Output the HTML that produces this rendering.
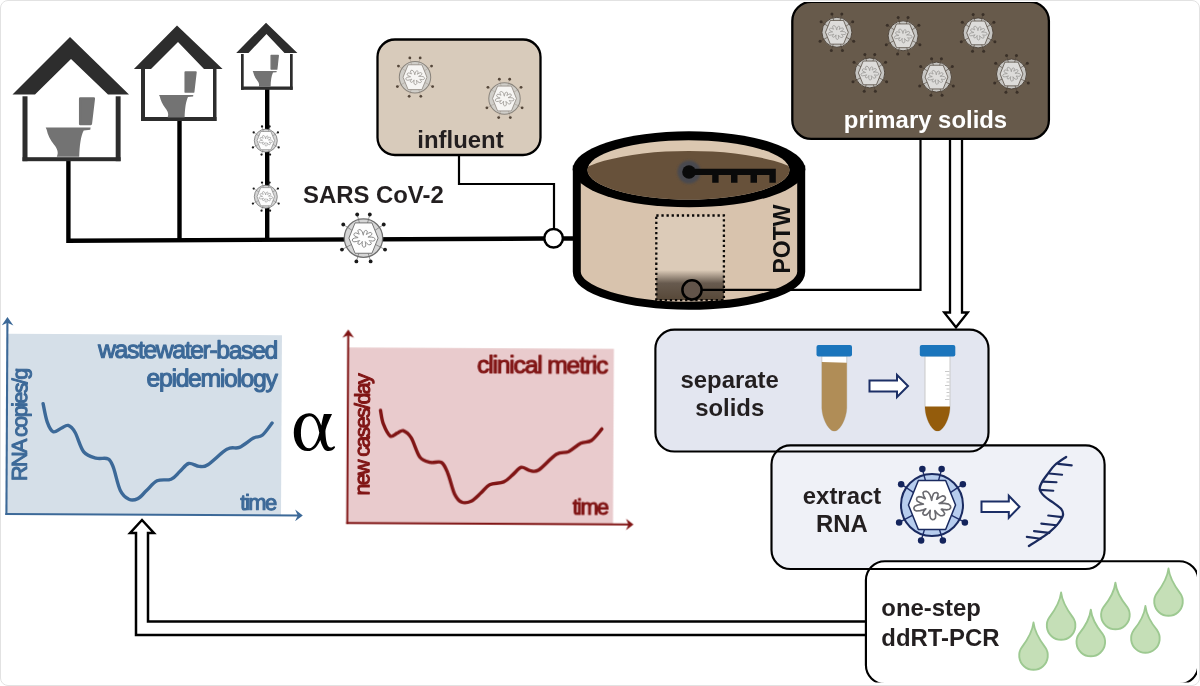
<!DOCTYPE html>
<html><head><meta charset="utf-8"><title>diagram</title>
<style>
html,body{margin:0;padding:0;background:#fff;}
body{width:1200px;height:686px;overflow:hidden;font-family:"Liberation Sans",sans-serif;}
svg{display:block;position:absolute;left:0;top:0;filter:blur(0.5px);}
text{font-family:"Liberation Sans",sans-serif;}
.b{font-weight:bold;font-size:23.9px;fill:#231f20;}
.frame{position:absolute;left:0;top:0;width:1198px;height:684px;border:1px solid #e2e2e2;border-radius:8px;}
</style></head><body>
<svg width="1200" height="686" viewBox="0 0 1200 686">
<defs>
<symbol id="vg" viewBox="-1.4 -1.4 2.8 2.8" overflow="visible"><circle r="1" fill="#d6d6d6"/><line x1="0.181" y1="-0.676" x2="0.329" y2="-1.227" stroke="#777" stroke-width="0.040"/><line x1="-0.181" y1="-0.676" x2="-0.329" y2="-1.227" stroke="#777" stroke-width="0.040"/><line x1="0.580" y1="-0.391" x2="1.053" y2="-0.710" stroke="#777" stroke-width="0.040"/><line x1="-0.580" y1="-0.391" x2="-1.053" y2="-0.710" stroke="#777" stroke-width="0.040"/><line x1="0.618" y1="0.329" x2="1.121" y2="0.596" stroke="#777" stroke-width="0.040"/><line x1="-0.618" y1="0.329" x2="-1.121" y2="0.596" stroke="#777" stroke-width="0.040"/><line x1="0.205" y1="0.669" x2="0.371" y2="1.215" stroke="#777" stroke-width="0.040"/><line x1="-0.205" y1="0.669" x2="-0.371" y2="1.215" stroke="#777" stroke-width="0.040"/><circle cx="0.329" cy="-1.227" r="0.100" fill="#1a1a1a"/><circle cx="-0.329" cy="-1.227" r="0.100" fill="#1a1a1a"/><circle cx="1.053" cy="-0.710" r="0.100" fill="#1a1a1a"/><circle cx="-1.053" cy="-0.710" r="0.100" fill="#1a1a1a"/><circle cx="1.121" cy="0.596" r="0.100" fill="#1a1a1a"/><circle cx="-1.121" cy="0.596" r="0.100" fill="#1a1a1a"/><circle cx="0.371" cy="1.215" r="0.100" fill="#1a1a1a"/><circle cx="-0.371" cy="1.215" r="0.100" fill="#1a1a1a"/><circle r="1" fill="none" stroke="#6e6e6e" stroke-width="0.065"/><polygon points="0.760,0.000 0.440,0.790 -0.440,0.790 -0.760,0.000 -0.440,-0.790 0.440,-0.790" fill="#fdfdfd" stroke="#6e6e6e" stroke-width="0.049" stroke-linejoin="round"/><path d="M0.532 -0.029 L0.592 0.024 L0.603 0.087 L0.564 0.139 L0.472 0.156 L0.365 0.142 L0.317 0.134 L0.300 0.135 L0.313 0.152 L0.361 0.199 L0.409 0.270 L0.390 0.320 L0.336 0.348 L0.264 0.342 L0.183 0.287 L0.117 0.209 L0.093 0.182 L0.090 0.187 L0.099 0.227 L0.116 0.312 L0.113 0.417 L0.068 0.465 L0.007 0.471 L-0.046 0.432 L-0.070 0.343 L-0.064 0.236 L-0.058 0.187 L-0.058 0.171 L-0.071 0.188 L-0.111 0.248 L-0.177 0.318 L-0.235 0.328 L-0.280 0.307 L-0.297 0.262 L-0.266 0.197 L-0.210 0.139 L-0.201 0.123 L-0.222 0.129 L-0.276 0.150 L-0.377 0.181 L-0.501 0.195 L-0.567 0.159 L-0.587 0.100 L-0.555 0.040 L-0.461 -0.002 L-0.345 -0.019 L-0.292 -0.025 L-0.279 -0.030 L-0.306 -0.041 L-0.384 -0.071 L-0.477 -0.126 L-0.500 -0.185 L-0.481 -0.240 L-0.427 -0.271 L-0.341 -0.258 L-0.255 -0.216 L-0.223 -0.203 L-0.219 -0.208 L-0.235 -0.238 L-0.270 -0.305 L-0.291 -0.392 L-0.253 -0.436 L-0.188 -0.443 L-0.119 -0.407 L-0.061 -0.318 L-0.026 -0.209 L-0.014 -0.159 L-0.009 -0.149 L-0.005 -0.178 L0.009 -0.258 L0.045 -0.357 L0.099 -0.397 L0.155 -0.398 L0.194 -0.364 L0.191 -0.293 L0.159 -0.214 L0.149 -0.186 L0.155 -0.185 L0.185 -0.207 L0.253 -0.254 L0.348 -0.295 L0.407 -0.278 L0.435 -0.231 L0.422 -0.172 L0.352 -0.113 L0.260 -0.068 L0.230 -0.053 L0.241 -0.051 L0.295 -0.053 L0.403 -0.053Z" fill="none" stroke="#8a8a8a" stroke-width="0.052" stroke-linejoin="round"/></symbol>
<symbol id="vb" viewBox="-1.4 -1.4 2.8 2.8" overflow="visible"><circle r="1" fill="#c6c5c2"/><line x1="0.181" y1="-0.676" x2="0.329" y2="-1.227" stroke="#4a4036" stroke-width="0.040"/><line x1="-0.181" y1="-0.676" x2="-0.329" y2="-1.227" stroke="#4a4036" stroke-width="0.040"/><line x1="0.580" y1="-0.391" x2="1.053" y2="-0.710" stroke="#4a4036" stroke-width="0.040"/><line x1="-0.580" y1="-0.391" x2="-1.053" y2="-0.710" stroke="#4a4036" stroke-width="0.040"/><line x1="0.618" y1="0.329" x2="1.121" y2="0.596" stroke="#4a4036" stroke-width="0.040"/><line x1="-0.618" y1="0.329" x2="-1.121" y2="0.596" stroke="#4a4036" stroke-width="0.040"/><line x1="0.205" y1="0.669" x2="0.371" y2="1.215" stroke="#4a4036" stroke-width="0.040"/><line x1="-0.205" y1="0.669" x2="-0.371" y2="1.215" stroke="#4a4036" stroke-width="0.040"/><circle cx="0.329" cy="-1.227" r="0.100" fill="#3a3028"/><circle cx="-0.329" cy="-1.227" r="0.100" fill="#3a3028"/><circle cx="1.053" cy="-0.710" r="0.100" fill="#3a3028"/><circle cx="-1.053" cy="-0.710" r="0.100" fill="#3a3028"/><circle cx="1.121" cy="0.596" r="0.100" fill="#3a3028"/><circle cx="-1.121" cy="0.596" r="0.100" fill="#3a3028"/><circle cx="0.371" cy="1.215" r="0.100" fill="#3a3028"/><circle cx="-0.371" cy="1.215" r="0.100" fill="#3a3028"/><circle r="1" fill="none" stroke="#4e443a" stroke-width="0.065"/><polygon points="0.760,0.000 0.440,0.790 -0.440,0.790 -0.760,0.000 -0.440,-0.790 0.440,-0.790" fill="#dddcda" stroke="#4e443a" stroke-width="0.049" stroke-linejoin="round"/><path d="M0.532 -0.029 L0.592 0.024 L0.603 0.087 L0.564 0.139 L0.472 0.156 L0.365 0.142 L0.317 0.134 L0.300 0.135 L0.313 0.152 L0.361 0.199 L0.409 0.270 L0.390 0.320 L0.336 0.348 L0.264 0.342 L0.183 0.287 L0.117 0.209 L0.093 0.182 L0.090 0.187 L0.099 0.227 L0.116 0.312 L0.113 0.417 L0.068 0.465 L0.007 0.471 L-0.046 0.432 L-0.070 0.343 L-0.064 0.236 L-0.058 0.187 L-0.058 0.171 L-0.071 0.188 L-0.111 0.248 L-0.177 0.318 L-0.235 0.328 L-0.280 0.307 L-0.297 0.262 L-0.266 0.197 L-0.210 0.139 L-0.201 0.123 L-0.222 0.129 L-0.276 0.150 L-0.377 0.181 L-0.501 0.195 L-0.567 0.159 L-0.587 0.100 L-0.555 0.040 L-0.461 -0.002 L-0.345 -0.019 L-0.292 -0.025 L-0.279 -0.030 L-0.306 -0.041 L-0.384 -0.071 L-0.477 -0.126 L-0.500 -0.185 L-0.481 -0.240 L-0.427 -0.271 L-0.341 -0.258 L-0.255 -0.216 L-0.223 -0.203 L-0.219 -0.208 L-0.235 -0.238 L-0.270 -0.305 L-0.291 -0.392 L-0.253 -0.436 L-0.188 -0.443 L-0.119 -0.407 L-0.061 -0.318 L-0.026 -0.209 L-0.014 -0.159 L-0.009 -0.149 L-0.005 -0.178 L0.009 -0.258 L0.045 -0.357 L0.099 -0.397 L0.155 -0.398 L0.194 -0.364 L0.191 -0.293 L0.159 -0.214 L0.149 -0.186 L0.155 -0.185 L0.185 -0.207 L0.253 -0.254 L0.348 -0.295 L0.407 -0.278 L0.435 -0.231 L0.422 -0.172 L0.352 -0.113 L0.260 -0.068 L0.230 -0.053 L0.241 -0.051 L0.295 -0.053 L0.403 -0.053Z" fill="none" stroke="#979593" stroke-width="0.052" stroke-linejoin="round"/></symbol>
<symbol id="vi" viewBox="-1.4 -1.4 2.8 2.8" overflow="visible"><circle r="1" fill="#d0cec9"/><line x1="0.181" y1="-0.676" x2="0.329" y2="-1.227" stroke="#a0978b" stroke-width="0.030"/><line x1="-0.181" y1="-0.676" x2="-0.329" y2="-1.227" stroke="#a0978b" stroke-width="0.030"/><line x1="0.580" y1="-0.391" x2="1.053" y2="-0.710" stroke="#a0978b" stroke-width="0.030"/><line x1="-0.580" y1="-0.391" x2="-1.053" y2="-0.710" stroke="#a0978b" stroke-width="0.030"/><line x1="0.618" y1="0.329" x2="1.121" y2="0.596" stroke="#a0978b" stroke-width="0.030"/><line x1="-0.618" y1="0.329" x2="-1.121" y2="0.596" stroke="#a0978b" stroke-width="0.030"/><line x1="0.205" y1="0.669" x2="0.371" y2="1.215" stroke="#a0978b" stroke-width="0.030"/><line x1="-0.205" y1="0.669" x2="-0.371" y2="1.215" stroke="#a0978b" stroke-width="0.030"/><circle cx="0.329" cy="-1.227" r="0.090" fill="#55473a"/><circle cx="-0.329" cy="-1.227" r="0.090" fill="#55473a"/><circle cx="1.053" cy="-0.710" r="0.090" fill="#55473a"/><circle cx="-1.053" cy="-0.710" r="0.090" fill="#55473a"/><circle cx="1.121" cy="0.596" r="0.090" fill="#55473a"/><circle cx="-1.121" cy="0.596" r="0.090" fill="#55473a"/><circle cx="0.371" cy="1.215" r="0.090" fill="#55473a"/><circle cx="-0.371" cy="1.215" r="0.090" fill="#55473a"/><circle r="1" fill="none" stroke="#8a847c" stroke-width="0.065"/><polygon points="0.760,0.000 0.440,0.790 -0.440,0.790 -0.760,0.000 -0.440,-0.790 0.440,-0.790" fill="#f6f5f3" stroke="#8a847c" stroke-width="0.049" stroke-linejoin="round"/><path d="M0.532 -0.029 L0.592 0.024 L0.603 0.087 L0.564 0.139 L0.472 0.156 L0.365 0.142 L0.317 0.134 L0.300 0.135 L0.313 0.152 L0.361 0.199 L0.409 0.270 L0.390 0.320 L0.336 0.348 L0.264 0.342 L0.183 0.287 L0.117 0.209 L0.093 0.182 L0.090 0.187 L0.099 0.227 L0.116 0.312 L0.113 0.417 L0.068 0.465 L0.007 0.471 L-0.046 0.432 L-0.070 0.343 L-0.064 0.236 L-0.058 0.187 L-0.058 0.171 L-0.071 0.188 L-0.111 0.248 L-0.177 0.318 L-0.235 0.328 L-0.280 0.307 L-0.297 0.262 L-0.266 0.197 L-0.210 0.139 L-0.201 0.123 L-0.222 0.129 L-0.276 0.150 L-0.377 0.181 L-0.501 0.195 L-0.567 0.159 L-0.587 0.100 L-0.555 0.040 L-0.461 -0.002 L-0.345 -0.019 L-0.292 -0.025 L-0.279 -0.030 L-0.306 -0.041 L-0.384 -0.071 L-0.477 -0.126 L-0.500 -0.185 L-0.481 -0.240 L-0.427 -0.271 L-0.341 -0.258 L-0.255 -0.216 L-0.223 -0.203 L-0.219 -0.208 L-0.235 -0.238 L-0.270 -0.305 L-0.291 -0.392 L-0.253 -0.436 L-0.188 -0.443 L-0.119 -0.407 L-0.061 -0.318 L-0.026 -0.209 L-0.014 -0.159 L-0.009 -0.149 L-0.005 -0.178 L0.009 -0.258 L0.045 -0.357 L0.099 -0.397 L0.155 -0.398 L0.194 -0.364 L0.191 -0.293 L0.159 -0.214 L0.149 -0.186 L0.155 -0.185 L0.185 -0.207 L0.253 -0.254 L0.348 -0.295 L0.407 -0.278 L0.435 -0.231 L0.422 -0.172 L0.352 -0.113 L0.260 -0.068 L0.230 -0.053 L0.241 -0.051 L0.295 -0.053 L0.403 -0.053Z" fill="none" stroke="#9a9792" stroke-width="0.052" stroke-linejoin="round"/></symbol>
<symbol id="vblue" viewBox="-1.4 -1.4 2.8 2.8" overflow="visible"><circle r="1" fill="#b7cdee"/><line x1="0.181" y1="-0.676" x2="0.311" y2="-1.159" stroke="#1f2f6b" stroke-width="0.045"/><line x1="-0.181" y1="-0.676" x2="-0.311" y2="-1.159" stroke="#1f2f6b" stroke-width="0.045"/><line x1="0.580" y1="-0.391" x2="0.995" y2="-0.671" stroke="#1f2f6b" stroke-width="0.045"/><line x1="-0.580" y1="-0.391" x2="-0.995" y2="-0.671" stroke="#1f2f6b" stroke-width="0.045"/><line x1="0.618" y1="0.329" x2="1.060" y2="0.563" stroke="#1f2f6b" stroke-width="0.045"/><line x1="-0.618" y1="0.329" x2="-1.060" y2="0.563" stroke="#1f2f6b" stroke-width="0.045"/><line x1="0.205" y1="0.669" x2="0.351" y2="1.148" stroke="#1f2f6b" stroke-width="0.045"/><line x1="-0.205" y1="0.669" x2="-0.351" y2="1.148" stroke="#1f2f6b" stroke-width="0.045"/><circle cx="0.311" cy="-1.159" r="0.105" fill="#14245c"/><circle cx="-0.311" cy="-1.159" r="0.105" fill="#14245c"/><circle cx="0.995" cy="-0.671" r="0.105" fill="#14245c"/><circle cx="-0.995" cy="-0.671" r="0.105" fill="#14245c"/><circle cx="1.060" cy="0.563" r="0.105" fill="#14245c"/><circle cx="-1.060" cy="0.563" r="0.105" fill="#14245c"/><circle cx="0.351" cy="1.148" r="0.105" fill="#14245c"/><circle cx="-0.351" cy="1.148" r="0.105" fill="#14245c"/><circle r="1" fill="none" stroke="#1a2a60" stroke-width="0.065"/><polygon points="0.760,0.000 0.440,0.790 -0.440,0.790 -0.760,0.000 -0.440,-0.790 0.440,-0.790" fill="#ffffff" stroke="#1a2a60" stroke-width="0.049" stroke-linejoin="round"/><path d="M0.532 -0.029 L0.592 0.024 L0.603 0.087 L0.564 0.139 L0.472 0.156 L0.365 0.142 L0.317 0.134 L0.300 0.135 L0.313 0.152 L0.361 0.199 L0.409 0.270 L0.390 0.320 L0.336 0.348 L0.264 0.342 L0.183 0.287 L0.117 0.209 L0.093 0.182 L0.090 0.187 L0.099 0.227 L0.116 0.312 L0.113 0.417 L0.068 0.465 L0.007 0.471 L-0.046 0.432 L-0.070 0.343 L-0.064 0.236 L-0.058 0.187 L-0.058 0.171 L-0.071 0.188 L-0.111 0.248 L-0.177 0.318 L-0.235 0.328 L-0.280 0.307 L-0.297 0.262 L-0.266 0.197 L-0.210 0.139 L-0.201 0.123 L-0.222 0.129 L-0.276 0.150 L-0.377 0.181 L-0.501 0.195 L-0.567 0.159 L-0.587 0.100 L-0.555 0.040 L-0.461 -0.002 L-0.345 -0.019 L-0.292 -0.025 L-0.279 -0.030 L-0.306 -0.041 L-0.384 -0.071 L-0.477 -0.126 L-0.500 -0.185 L-0.481 -0.240 L-0.427 -0.271 L-0.341 -0.258 L-0.255 -0.216 L-0.223 -0.203 L-0.219 -0.208 L-0.235 -0.238 L-0.270 -0.305 L-0.291 -0.392 L-0.253 -0.436 L-0.188 -0.443 L-0.119 -0.407 L-0.061 -0.318 L-0.026 -0.209 L-0.014 -0.159 L-0.009 -0.149 L-0.005 -0.178 L0.009 -0.258 L0.045 -0.357 L0.099 -0.397 L0.155 -0.398 L0.194 -0.364 L0.191 -0.293 L0.159 -0.214 L0.149 -0.186 L0.155 -0.185 L0.185 -0.207 L0.253 -0.254 L0.348 -0.295 L0.407 -0.278 L0.435 -0.231 L0.422 -0.172 L0.352 -0.113 L0.260 -0.068 L0.230 -0.053 L0.241 -0.051 L0.295 -0.053 L0.403 -0.053Z" fill="none" stroke="#6a6a70" stroke-width="0.052" stroke-linejoin="round"/></symbol>
<linearGradient id="sludge" x1="0" y1="0" x2="0" y2="1">
<stop offset="0" stop-color="#dccbb8"/><stop offset="0.645" stop-color="#dccbb8"/><stop offset="0.80" stop-color="#675a4e"/><stop offset="1" stop-color="#574838"/>
</linearGradient>
<clipPath id="pageclip"><rect x="2" y="1.9" width="1195" height="680.6" rx="7.5"/></clipPath>
<clipPath id="tankTop"><ellipse cx="688.5" cy="169.9" rx="101" ry="29.6"/></clipPath>
<filter id="blur1" x="-50%" y="-50%" width="200%" height="200%"><feGaussianBlur stdDeviation="1.2"/></filter>
</defs>
<g clip-path="url(#pageclip)">
<g stroke="#000" stroke-width="4.4" fill="none" stroke-linejoin="miter">
<path d="M68.4 160 V240.75 L545 238.55"/>
<path d="M179.5 120 V240.2"/>
<path d="M267.2 89 V239.8"/>
<path d="M563 238.5 H578"/>
</g>
<polygon points="12.5,94.5 70.0,37.0 129.0,94.5 108.0,94.5 71.0,59.0 35.0,94.5" fill="#2d2d2d"/><rect x="22.5" y="96.3" width="5.0" height="64.9" fill="#2d2d2d"/><rect x="115.7" y="96.3" width="4.9" height="64.9" fill="#2d2d2d"/><rect x="22.5" y="157.2" width="98.1" height="4.0" fill="#2d2d2d"/>
<path d="M80.2 98.5 L93.8 98.5 L90.8 123.9 L80.2 123.9 Z" fill="#737373" stroke="#737373" stroke-width="2.5" stroke-linejoin="round"/><path d="M45.7 127.6 L90.6 127.6 L90.3 129.7 L83.7 130.4 C80.7 136.4 79.7 144.8 79.2 156.7 L56.8 156.7 L56.8 156.7 C59.0 152.5 57.0 148.3 54.1 144.8 C50.1 140.0 47.7 134.6 46.7 129.8 Z" fill="#737373"/>
<polygon points="133.9,69.0 177.0,25.4 222.6,69.0 204.0,69.0 178.0,42.0 151.0,69.0" fill="#2d2d2d"/><rect x="141.0" y="69.0" width="4.0" height="52.0" fill="#2d2d2d"/><rect x="213.0" y="69.0" width="3.5" height="52.0" fill="#2d2d2d"/><rect x="141.0" y="117.0" width="75.5" height="4.0" fill="#2d2d2d"/>
<path d="M185.4 72.2 L195.8 72.2 L193.5 91.9 L185.4 91.9 Z" fill="#737373" stroke="#737373" stroke-width="1.9" stroke-linejoin="round"/><path d="M159.0 94.9 L193.3 94.9 L193.1 96.5 L188.0 97.0 C185.8 101.7 185.0 108.2 184.6 117.5 L167.5 117.5 L167.5 117.5 C169.2 114.2 167.7 111.0 165.4 108.2 C162.4 104.5 160.5 100.3 159.8 96.6 Z" fill="#737373"/>
<polygon points="236.2,53.0 266.0,22.7 297.4,53.0 284.5,53.0 266.5,34.0 248.5,53.0" fill="#2d2d2d"/><rect x="241.0" y="54.0" width="2.7" height="35.8" fill="#2d2d2d"/><rect x="290.0" y="54.0" width="2.7" height="35.8" fill="#2d2d2d"/><rect x="241.0" y="86.5" width="51.7" height="3.3" fill="#2d2d2d"/>
<path d="M271.1 55.4 L278.3 55.4 L276.8 69.1 L271.1 69.1 Z" fill="#737373" stroke="#737373" stroke-width="1.3" stroke-linejoin="round"/><path d="M252.7 71.1 L276.7 71.1 L276.5 72.2 L273.0 72.6 C271.4 75.9 270.8 80.4 270.6 86.8 L258.6 86.8 L258.6 86.8 C259.8 84.5 258.7 82.3 257.2 80.4 C255.1 77.8 253.8 74.9 253.2 72.3 Z" fill="#737373"/>
<use href="#vg" x="249.7" y="124.5" width="32.2" height="32.2"/>
<use href="#vg" x="249.7" y="180.6" width="32.2" height="32.2"/>
<use href="#vg" x="336.6" y="211.2" width="53.8" height="53.8"/>
<text class="b" x="303" y="203">SARS CoV-2</text>
<rect x="377.5" y="39.5" width="163" height="115.5" rx="17.5" fill="#d8cbbb" stroke="#000" stroke-width="2.3"/>
<use href="#vi" x="393.0" y="55.2" width="44.0" height="44.0"/>
<use href="#vi" x="482.5" y="76.5" width="44.0" height="44.0"/>
<text class="b" x="460.5" y="147.5" text-anchor="middle">influent</text>
<path d="M459 156 V184 H554 V229" fill="none" stroke="#000" stroke-width="2.2"/>
<circle cx="553.6" cy="238.2" r="9.3" fill="#fff" stroke="#000" stroke-width="2.5"/>
<path d="M576.8 169.5 V271.7 A112.2 34 0 0 0 801.2 271.7 V169.5 Z" fill="#d8c3ad" stroke="#000" stroke-width="8"/>
<ellipse cx="689" cy="169.3" rx="116.3" ry="38" fill="#000"/>
<ellipse cx="688.5" cy="169.9" rx="101" ry="29.6" fill="#dbc7b0"/>
<g clip-path="url(#tankTop)"><ellipse cx="689" cy="184.9" rx="120" ry="34" fill="#67513a"/></g>
<circle cx="689" cy="172" r="11.5" fill="#484a50" filter="url(#blur1)"/>
<circle cx="689" cy="172" r="6.8" fill="#0a0a0a"/>
<path d="M688 168.8 H775.8 V182.7 H769.4 V174.9 H757 V182.7 H750.5 V174.9 H737.5 V182.7 H731 V174.9 H718.6 V182.7 H712.2 V174.9 H688 Z" fill="#0a0a0a"/>
<rect x="656.3" y="215.5" width="67.6" height="84.6" fill="url(#sludge)" stroke="#0a0806" stroke-width="2.3" stroke-dasharray="2.3 2.8"/>
<path d="M701 289.9 H920.5 V140" fill="none" stroke="#000" stroke-width="2.2"/>
<circle cx="692" cy="289.9" r="9.6" fill="#62544a" stroke="#000" stroke-width="2.5"/>
<text class="b" transform="translate(790.3,273.5) rotate(-90)" style="font-size:23px;fill:#111">POTW</text>
<rect x="792.3" y="1.9" width="256.6" height="137" rx="19" fill="#675a4b" stroke="#000" stroke-width="2.3"/>
<use href="#vb" x="815.9" y="11.3" width="42.0" height="42.0"/>
<use href="#vb" x="882.1" y="14.8" width="42.0" height="42.0"/>
<use href="#vb" x="957.1" y="11.9" width="42.0" height="42.0"/>
<use href="#vb" x="848.8" y="51.9" width="42.0" height="42.0"/>
<use href="#vb" x="915.5" y="56.1" width="42.0" height="42.0"/>
<use href="#vb" x="990.5" y="53.0" width="42.0" height="42.0"/>
<text class="b" x="925.5" y="127.7" text-anchor="middle" style="fill:#fff">primary solids</text>
<path d="M950 140 V312.5 H944.2 L956 327.3 L967.8 312.5 H962 V140" fill="#fff" stroke="#000" stroke-width="2.3" stroke-linejoin="miter"/>
<path d="M867 621.5 H148 V533 H153.9 L142 520 L130.1 533 H136 V635 H867" fill="#fff" stroke="#000" stroke-width="2.5" stroke-linejoin="miter"/>
<rect x="655.4" y="329.6" width="333.1" height="121.9" rx="19" fill="#e3e6f0"/>
<rect x="771.5" y="445.4" width="333.1" height="123.6" rx="19" fill="#eff1f7"/>
<rect x="865.9" y="561.2" width="332.4" height="122.8" rx="19" fill="#ffffff"/>
<g fill="none" stroke="#000" stroke-width="2.15"><rect x="655.4" y="329.6" width="333.1" height="121.9" rx="19"/><rect x="771.5" y="445.4" width="333.1" height="123.6" rx="19"/><rect x="865.9" y="561.2" width="332.4" height="122.8" rx="19"/></g>
<text class="b" x="729.7" y="388" text-anchor="middle">separate</text>
<text class="b" x="729.7" y="416.2" text-anchor="middle">solids</text>
<path d="M821.8 356.0 V408 C822.3 419 827.8 428 831.7 430.4 Q834.3 431.8 836.9 430.4 C840.8 428 846.3 419 846.8 408 V356.0 Z" fill="#fff" stroke="#c9c9c9" stroke-width="1"/><path d="M821.8 362.0 V408 C822.3 419 827.8 428 831.7 430.4 Q834.3 431.8 836.9 430.4 C840.8 428 846.3 419 846.8 408 V362.8 Z" fill="#b08d57"/><rect x="816.5" y="345" width="35.5" height="11.5" rx="2" fill="#1b75bc"/>
<path d="M925.0 356.0 V408 C925.5 419 931.0 428 934.9 430.4 Q937.5 431.8 940.1 430.4 C944.0 428 949.5 419 950.0 408 V356.0 Z" fill="#fff" stroke="#c9c9c9" stroke-width="1"/><clipPath id="pel937"><rect x="923.0" y="406.6" width="30" height="30"/></clipPath><path d="M925.0 400.0 V408 C925.5 419 931.0 428 934.9 430.4 Q937.5 431.8 940.1 430.4 C944.0 428 949.5 419 950.0 408 V400.0 Z" fill="#945c0c" clip-path="url(#pel937)"/><line x1="945.0" y1="371.5" x2="949.5" y2="371.5" stroke="#c4c4c4" stroke-width="0.9"/><line x1="946.5" y1="375.0" x2="949.5" y2="375.0" stroke="#c4c4c4" stroke-width="0.9"/><line x1="946.5" y1="378.5" x2="949.5" y2="378.5" stroke="#c4c4c4" stroke-width="0.9"/><line x1="946.5" y1="382.0" x2="949.5" y2="382.0" stroke="#c4c4c4" stroke-width="0.9"/><line x1="945.0" y1="385.5" x2="949.5" y2="385.5" stroke="#c4c4c4" stroke-width="0.9"/><line x1="946.5" y1="389.0" x2="949.5" y2="389.0" stroke="#c4c4c4" stroke-width="0.9"/><line x1="946.5" y1="392.5" x2="949.5" y2="392.5" stroke="#c4c4c4" stroke-width="0.9"/><line x1="946.5" y1="396.0" x2="949.5" y2="396.0" stroke="#c4c4c4" stroke-width="0.9"/><line x1="945.0" y1="399.5" x2="949.5" y2="399.5" stroke="#c4c4c4" stroke-width="0.9"/><rect x="919.8" y="345" width="35.5" height="11.5" rx="2" fill="#1b75bc"/>
<path d="M869.5 380.5 H897.0 V375.0 L908.0 386.0 L897.0 397.0 V391.5 H869.5 Z" fill="#fff" stroke="#1c2f66" stroke-width="2" stroke-linejoin="miter"/>
<text class="b" x="842" y="503.5" text-anchor="middle">extract</text>
<text class="b" x="842" y="532" text-anchor="middle">RNA</text>
<use href="#vblue" x="888.6" y="461.6" width="86.8" height="86.8"/>
<path d="M981.5 501.5 H1008.8 V495.8 L1019.5 506.8 L1008.8 517.7 V512.0 H981.5 Z" fill="#fff" stroke="#1c2f66" stroke-width="2" stroke-linejoin="miter"/>
<path d="M1066.1 457.0 C1064.2 458.3 1058.0 462.2 1054.9 465.0 C1051.8 467.8 1049.8 471.1 1047.7 473.9 C1045.6 476.7 1043.4 479.4 1042.1 481.9 C1040.8 484.4 1039.3 486.7 1039.7 489.1 C1040.1 491.5 1042.2 494.0 1044.5 496.3 C1046.8 498.6 1050.5 500.6 1053.3 502.7 C1056.1 504.8 1059.7 507.0 1061.3 509.1 C1062.9 511.2 1063.4 513.1 1062.9 515.5 C1062.4 517.9 1060.2 520.9 1058.1 523.6 C1056.0 526.3 1053.3 528.9 1050.1 531.6 C1046.9 534.3 1042.4 537.2 1038.9 539.6 C1035.4 542.0 1030.6 544.9 1028.9 546.0" fill="none" stroke="#1a2a5e" stroke-width="2.3" stroke-linecap="round"/>
<line x1="1058.1" y1="463.9" x2="1071.7" y2="465.4" stroke="#1a2a5e" stroke-width="2.1" stroke-linecap="round"/>
<line x1="1049.3" y1="473.5" x2="1062.1" y2="474.7" stroke="#1a2a5e" stroke-width="2.1" stroke-linecap="round"/>
<line x1="1042.9" y1="481.6" x2="1056.5" y2="482.2" stroke="#1a2a5e" stroke-width="2.1" stroke-linecap="round"/>
<line x1="1040.0" y1="489.9" x2="1053.3" y2="490.7" stroke="#1a2a5e" stroke-width="2.1" stroke-linecap="round"/>
<line x1="1062.1" y1="517.1" x2="1048.2" y2="515.5" stroke="#1a2a5e" stroke-width="2.1" stroke-linecap="round"/>
<line x1="1056.5" y1="525.2" x2="1041.3" y2="523.6" stroke="#1a2a5e" stroke-width="2.1" stroke-linecap="round"/>
<line x1="1049.3" y1="532.9" x2="1034.0" y2="531.1" stroke="#1a2a5e" stroke-width="2.1" stroke-linecap="round"/>
<line x1="1040.5" y1="538.8" x2="1026.8" y2="536.9" stroke="#1a2a5e" stroke-width="2.1" stroke-linecap="round"/>
<text class="b" x="881.3" y="616">one-step</text>
<text class="b" x="881.3" y="645.6">ddRT-PCR</text>
<path d="M1033.5 622.5 C1034.5 631.5 1038.5 638.5 1045.2 647.3 A14.3 14.3 0 1 1 1021.8 647.3 C1028.5 638.5 1032.5 631.5 1033.5 622.5 Z" fill="#c5dfb7" stroke="#9dc991" stroke-width="1.9" stroke-linejoin="round"/>
<path d="M1061.1 592.5 C1062.1 601.5 1066.1 608.5 1072.8 617.3 A14.3 14.3 0 1 1 1049.4 617.3 C1056.1 608.5 1060.1 601.5 1061.1 592.5 Z" fill="#c5dfb7" stroke="#9dc991" stroke-width="1.9" stroke-linejoin="round"/>
<path d="M1090.8 609.6 C1091.8 618.6 1095.8 625.6 1102.5 633.8 A14.3 14.3 0 1 1 1079.1 633.8 C1085.8 625.6 1089.8 618.6 1090.8 609.6 Z" fill="#c5dfb7" stroke="#9dc991" stroke-width="1.9" stroke-linejoin="round"/>
<path d="M1115.4 582.6 C1116.4 591.6 1120.4 598.6 1127.1 606.8 A14.3 14.3 0 1 1 1103.7 606.8 C1110.4 598.6 1114.4 591.6 1115.4 582.6 Z" fill="#c5dfb7" stroke="#9dc991" stroke-width="1.9" stroke-linejoin="round"/>
<path d="M1145.4 606.0 C1146.4 615.0 1150.4 622.0 1157.1 630.2 A14.3 14.3 0 1 1 1133.7 630.2 C1140.4 622.0 1144.4 615.0 1145.4 606.0 Z" fill="#c5dfb7" stroke="#9dc991" stroke-width="1.9" stroke-linejoin="round"/>
<path d="M1168.5 568.5 C1169.5 577.5 1173.5 584.5 1180.2 593.3 A14.3 14.3 0 1 1 1156.8 593.3 C1163.5 584.5 1167.5 577.5 1168.5 568.5 Z" fill="#c5dfb7" stroke="#9dc991" stroke-width="1.9" stroke-linejoin="round"/>
<g transform="rotate(0.3 150 420)">
<rect x="7.5" y="334.5" width="274" height="180" fill="#d5dfe8"/>
<path d="M6.9 515.7 V320" fill="none" stroke="#3c6998" stroke-width="2.1"/>
<path d="M5.9 514.7 H300" fill="none" stroke="#3c6998" stroke-width="2.1"/>
<path d="M6.9 317.8 L12.9 326.2 L6.9 323.6 L1.2 326.2 Z" fill="#3c6998"/>
<path d="M303.3 514.7 L295.6 508.8 L298.2 514.7 L295.6 520.6 Z" fill="#3c6998"/>
<path d="M43.0 404.2 C43.7 407.3 45.5 417.8 47.2 422.4 C48.9 427.1 50.8 431.2 53.2 432.2 C55.5 433.3 58.7 429.8 61.2 428.7 C63.7 427.7 65.9 425.2 68.2 425.9 C70.5 426.6 72.6 428.5 75.2 432.9 C77.8 437.3 80.4 447.9 83.9 452.2 C87.4 456.4 92.1 457.3 96.2 458.4 C100.3 459.6 105.5 457.6 108.4 459.1 C111.3 460.7 111.6 462.6 113.7 467.9 C115.7 473.1 118.0 485.4 120.7 490.6 C123.3 495.9 126.5 498.0 129.4 499.4 C132.3 500.7 135.2 500.1 138.2 498.7 C141.1 497.2 143.7 493.6 146.9 490.6 C150.1 487.7 153.3 482.8 157.4 480.8 C161.5 478.9 167.6 480.7 171.4 479.1 C175.2 477.5 177.2 474.0 180.1 471.4 C183.0 468.8 185.7 464.2 188.9 463.3 C192.1 462.5 196.2 466.0 199.4 466.1 C202.6 466.3 203.5 467.3 208.1 464.4 C212.8 461.5 222.1 451.6 227.4 448.7 C232.6 445.7 235.2 448.8 239.6 446.9 C244.0 445.0 249.8 439.5 253.6 437.5 C257.4 435.4 259.2 437.2 262.3 434.7 C265.4 432.2 270.5 424.5 272.1 422.4" fill="none" stroke="#3c6998" stroke-width="3.4" stroke-linecap="round"/>
<text x="276.5" y="358" text-anchor="end" style="font-size:24.7px;letter-spacing:-1.35px;fill:#3c6998;stroke:#3c6998;stroke-width:1.1px;stroke-linejoin:round;">wastewater-based</text>
<text x="276.3" y="386.3" text-anchor="end" style="font-size:24.7px;letter-spacing:-1.3px;fill:#3c6998;stroke:#3c6998;stroke-width:1.1px;stroke-linejoin:round;">epidemiology</text>
<text x="276.3" y="509.3" text-anchor="end" style="font-size:21.8px;letter-spacing:-1.4px;fill:#3c6998;stroke:#3c6998;stroke-width:1.05px;stroke-linejoin:round;">time</text>
<text transform="translate(27,481.6) rotate(-90)" style="font-size:21.5px;letter-spacing:-1.55px;fill:#3c6998;stroke:#3c6998;stroke-width:1.05px;stroke-linejoin:round;">RNA copies/g</text>
</g>
<g transform="rotate(0.3 490 430)">
<rect x="348.5" y="348.2" width="265" height="175.5" fill="#e9cbcd"/>
<path d="M347.75 524.7 V333" fill="none" stroke="#801515" stroke-width="2"/>
<path d="M346.75 523.7 H630" fill="none" stroke="#801515" stroke-width="2"/>
<path d="M347.75 330.3 L353.55 338.5 L347.75 336 L341.95 338.5 Z" fill="#801515"/>
<path d="M634 523.7 L626.5 518 L629 523.7 L626.5 529.4 Z" fill="#801515"/>
<path d="M380.4 410.9 C380.9 413.1 381.6 420.0 383.2 424.2 C384.9 428.5 387.9 434.9 390.2 436.5 C392.5 438.0 395.1 434.5 397.2 433.7 C399.4 432.8 400.8 430.5 403.2 431.2 C405.5 432.0 408.4 433.8 411.2 438.2 C414.0 442.6 416.8 453.4 420.0 457.5 C423.2 461.5 426.8 461.8 430.5 462.7 C434.1 463.6 438.7 461.0 441.7 462.7 C444.6 464.5 445.7 467.9 447.9 473.2 C450.2 478.4 452.6 489.4 454.9 494.2 C457.3 499.0 459.1 501.1 461.9 502.2 C464.7 503.4 468.5 502.7 471.7 501.2 C474.9 499.7 478.2 495.9 481.2 493.1 C484.2 490.4 486.1 486.6 489.9 484.7 C493.7 482.9 500.1 483.6 503.9 481.9 C507.7 480.3 509.8 477.4 512.7 474.9 C515.6 472.5 518.5 468.0 521.4 467.2 C524.3 466.5 527.3 470.0 530.2 470.4 C533.1 470.8 534.5 472.4 538.9 469.7 C543.3 467.0 551.5 457.0 556.4 454.0 C561.4 450.9 564.6 453.0 568.7 451.2 C572.7 449.3 577.1 444.6 580.9 442.8 C584.7 440.9 587.9 442.3 591.4 440.0 C594.9 437.6 600.2 430.3 601.9 428.4" fill="none" stroke="#801515" stroke-width="3.4" stroke-linecap="round"/>
<text x="607" y="372.7" text-anchor="end" style="font-size:24.7px;letter-spacing:-1.2px;fill:#801515;stroke:#801515;stroke-width:1.1px;stroke-linejoin:round;">clinical metric</text>
<text x="608" y="514" text-anchor="end" style="font-size:21.5px;letter-spacing:-1.4px;fill:#801515;stroke:#801515;stroke-width:1.05px;stroke-linejoin:round;">time</text>
<text transform="translate(369.5,496.2) rotate(-90)" style="font-size:21.3px;letter-spacing:-1.55px;fill:#801515;stroke:#801515;stroke-width:1.05px;stroke-linejoin:round;">new cases/day</text>
</g>
<path transform="translate(280,395) scale(0.10204)" d="M430 185 L510 185 C480 250 450 310 445 355 C447 420 455 480 475 505 C490 522 515 515 533 500 L540 515 C520 545 480 558 450 545 C425 530 405 480 395 440 C370 500 330 550 270 550 C190 550 135 470 135 370 C135 270 190 178 285 178 C350 178 385 240 405 300 C410 260 420 220 430 185 Z M290 208 C230 208 205 290 205 375 C205 460 240 522 285 522 C335 522 370 440 385 370 C370 280 340 208 290 208 Z" fill="#000" fill-rule="evenodd"/>
</g></svg><div class="frame"></div></body></html>
